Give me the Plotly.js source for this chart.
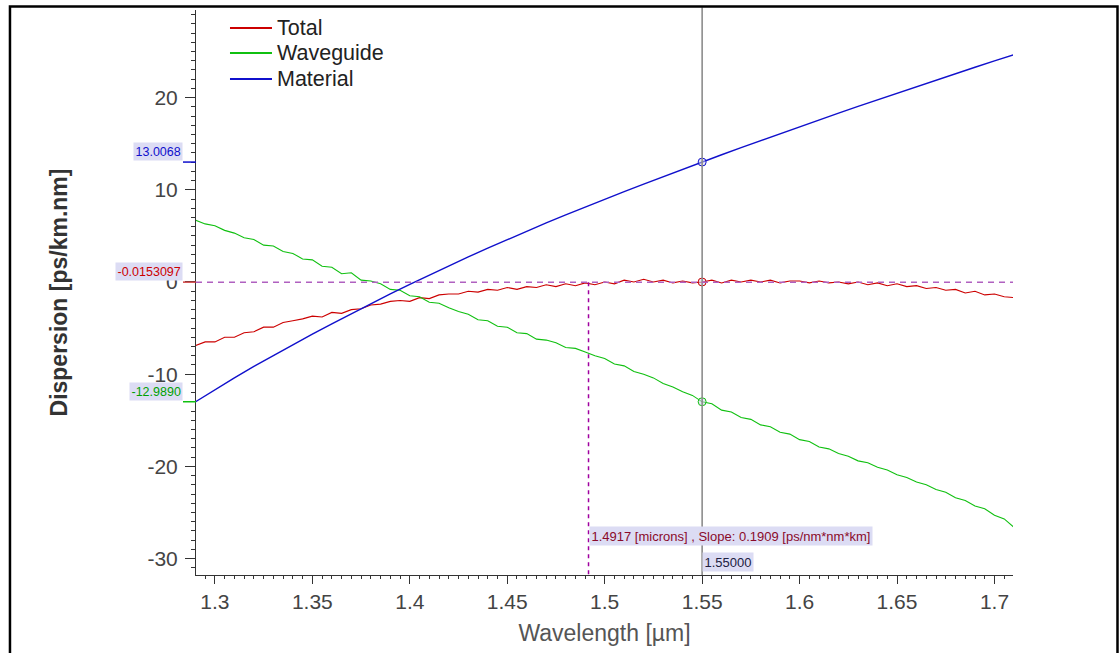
<!DOCTYPE html>
<html>
<head>
<meta charset="utf-8">
<script src="https://cdn.plot.ly/plotly-3.0.1.min.js"></script>
<style>
  html, body { margin: 0; padding: 0; background: #fff; }
  #chart { width: 1120px; height: 653px; }
</style>
</head>
<body>
<div id="chart"></div>
<script>
// Wavelength grid for the noisy curves (µm)
var wlFine = [1.290,1.295,1.300,1.305,1.310,1.315,1.320,1.325,1.330,1.335,1.340,1.345,1.350,1.355,1.360,1.365,1.370,1.375,1.380,1.385,1.390,1.395,1.400,1.405,1.410,1.415,1.420,1.425,1.430,1.435,1.440,1.445,1.450,1.455,1.460,1.465,1.470,1.475,1.480,1.485,1.490,1.495,1.500,1.505,1.510,1.515,1.520,1.525,1.530,1.535,1.540,1.545,1.550,1.555,1.560,1.565,1.570,1.575,1.580,1.585,1.590,1.595,1.600,1.605,1.610,1.615,1.620,1.625,1.630,1.635,1.640,1.645,1.650,1.655,1.660,1.665,1.670,1.675,1.680,1.685,1.690,1.695,1.700,1.705,1.710];

// Total dispersion (ps/km.nm)
var totalD = [-6.9,-6.5,-6.5,-6.0,-6.0,-5.5,-5.4,-4.9,-4.9,-4.4,-4.2,-4.0,-3.7,-3.8,-3.3,-3.4,-3.0,-2.9,-2.5,-2.4,-2.1,-2.0,-2.1,-1.7,-1.8,-1.4,-1.3,-1.3,-1.0,-1.1,-0.8,-0.9,-0.6,-0.8,-0.5,-0.6,-0.3,-0.5,-0.2,-0.4,-0.1,-0.3,0.0,-0.2,0.2,0.0,0.3,0.0,0.2,-0.1,0.1,-0.1,0.0,0.2,-0.1,0.2,0.0,0.2,0.0,0.2,-0.1,0.1,0.1,-0.1,0.1,-0.1,0.0,-0.2,0.0,-0.3,-0.1,-0.4,-0.2,-0.5,-0.4,-0.7,-0.6,-0.9,-0.8,-1.2,-1.0,-1.4,-1.3,-1.6,-1.7];

// Waveguide dispersion (ps/km.nm)
var waveguideD = [6.7,6.3,6.1,5.6,5.3,4.8,4.6,4.0,3.9,3.3,3.1,2.5,2.4,1.7,1.6,0.9,1.0,0.2,0.1,-0.2,-0.8,-0.9,-1.5,-1.6,-2.2,-2.3,-2.8,-3.2,-3.5,-4.1,-4.2,-4.8,-4.9,-5.5,-5.6,-6.2,-6.3,-6.6,-7.1,-7.2,-7.6,-8.0,-8.3,-8.9,-9.1,-9.7,-10.0,-10.4,-11.0,-11.4,-11.9,-12.3,-13.0,-13.2,-13.9,-14.1,-14.7,-14.9,-15.5,-15.7,-16.3,-16.5,-17.1,-17.3,-17.9,-18.1,-18.6,-18.9,-19.4,-19.6,-20.1,-20.4,-20.9,-21.2,-21.7,-22.0,-22.5,-22.8,-23.4,-23.7,-24.3,-24.6,-25.3,-25.7,-26.6];

// Wavelength grid for the smooth material curve (µm)
var wlCoarse = [1.29,1.30,1.31,1.32,1.33,1.34,1.35,1.36,1.37,1.38,1.39,1.40,1.41,1.42,1.43,1.44,1.45,1.46,1.47,1.48,1.49,1.50,1.51,1.52,1.53,1.54,1.55,1.56,1.57,1.58,1.59,1.60,1.61,1.62,1.63,1.64,1.65,1.66,1.67,1.68,1.69,1.70,1.71];

// Material dispersion (ps/km.nm)
var materialD = [-13.00,-11.68,-10.40,-9.16,-7.96,-6.79,-5.65,-4.53,-3.43,-2.35,-1.29,-0.25,0.76,1.75,2.72,3.67,4.60,5.51,6.40,7.27,8.13,8.97,9.80,10.62,11.43,12.23,13.02,13.80,14.57,15.33,16.09,16.84,17.58,18.31,19.04,19.76,20.48,21.19,21.89,22.59,23.29,23.98,24.66];

// Series names
var seriesNames = ["Total", "Waveguide", "Material"];

// Cursor readouts
var cursorX = 1.55;
var cursorLabel = "1.55000";
var cursorVals = [13.0068, -12.9890, 0.0];
var cursorTexts = ["13.0068", "-12.9890"];
var levelVal = -0.0153097;
var levelText = "-0.0153097";
var slopeX = 1.4917;
var slopeText = "1.4917 [microns] , Slope: 0.1909 [ps/nm*nm*km]";

// Tick labels
var xTickVals = [1.3,1.35,1.4,1.45,1.5,1.55,1.6,1.65,1.7];
var xTickText = ["1.3","1.35","1.4","1.45","1.5","1.55","1.6","1.65","1.7"];
var yTickVals = [-30,-20,-10,0,10,20];
var yTickText = ["-30","-20","-10","0","10","20"];

var RED = "#cc0000", GREEN = "#10c010", BLUE = "#1010cc";
var COLORS = [RED, GREEN, BLUE];
var FONT = "Liberation Sans, Arial, sans-serif";
var LAV = "#dcdcf4";

var traces = [
  {x: wlFine, y: totalD, name: seriesNames[0], mode: "lines", line: {color: RED, width: 1.1}},
  {x: wlFine, y: waveguideD, name: seriesNames[1], mode: "lines", line: {color: GREEN, width: 1.1}},
  {x: wlCoarse, y: materialD, name: seriesNames[2], mode: "lines", line: {color: BLUE, width: 1.4}},
  {x: [cursorX, cursorX, cursorX], y: cursorVals, mode: "markers", showlegend: false,
   marker: {symbol: "circle", size: 8, color: "rgba(210,210,235,0.5)",
            line: {color: [BLUE, GREEN, RED], width: 1}}}
];

var tickEnd = -13/817;
var shapes = [
  {type: "line", xref: "x", yref: "paper", x0: cursorX, x1: cursorX, y0: 0, y1: 1.005,
   line: {color: "#8c8c8c", width: 1.6}},
  {type: "line", xref: "paper", yref: "y", x0: 0, x1: 1, y0: levelVal, y1: levelVal,
   line: {color: "#b060c0", width: 1.5, dash: "6px,5px"}},
  {type: "line", xref: "x", yref: "y", x0: slopeX, x1: slopeX, y0: levelVal, y1: -31.8,
   line: {color: "#a000a0", width: 1.5, dash: "4px,4px"}},
  {type: "line", xref: "paper", yref: "y", x0: tickEnd, x1: 0, y0: cursorVals[0], y1: cursorVals[0], line: {color: BLUE, width: 1.5}},
  {type: "line", xref: "paper", yref: "y", x0: tickEnd, x1: 0, y0: levelVal, y1: levelVal, line: {color: "#d04040", width: 1.5}},
  {type: "line", xref: "paper", yref: "y", x0: tickEnd, x1: 0, y0: cursorVals[1], y1: cursorVals[1], line: {color: GREEN, width: 1.5}},
  {type: "rect", xref: "paper", yref: "paper", x0: -0.2277, x1: 1.1279, y0: -0.16, y1: 1.0062,
   line: {color: "#000", width: 2.5}, fillcolor: "rgba(0,0,0,0)"}
];

function readout(text, y, color) {
  return {xref: "paper", yref: "y", x: tickEnd, y: y, xanchor: "right", yanchor: "bottom",
          yshift: 1, text: text, showarrow: false, bgcolor: LAV, borderpad: 1.5,
          font: {family: FONT, size: 12.5, color: color}};
}

var annotations = [
  readout(cursorTexts[0], cursorVals[0], BLUE),
  readout(levelText, levelVal, RED),
  readout(cursorTexts[1], cursorVals[1], "#00a000"),
  {xref: "x", yref: "paper", x: slopeX, y: 0.0513, xanchor: "left", yanchor: "bottom",
   text: slopeText, showarrow: false, bgcolor: LAV, borderpad: 1.5,
   font: {family: FONT, size: 13, color: "#8a0a2a"}},
  {xref: "x", yref: "paper", x: cursorX, y: 0.005, xanchor: "left", yanchor: "bottom",
   text: cursorLabel, showarrow: false, bgcolor: LAV, borderpad: 1.5,
   font: {family: FONT, size: 13, color: "#202040"}}
];

// Legend drawn at the top left of the plot
var legY = [0.9681, 0.9239, 0.8779];
for (var i = 0; i < seriesNames.length; i++) {
  shapes.push({type: "line", xref: "paper", yref: "paper", x0: 0.0416, x1: 0.0930,
               y0: legY[i], y1: legY[i], line: {color: COLORS[i], width: 2}});
  annotations.push({xref: "paper", yref: "paper", x: 0.0965, y: legY[i], xanchor: "left",
                    yanchor: "middle", text: seriesNames[i], showarrow: false,
                    font: {family: FONT, size: 21.5, color: "#222"}});
}

var layout = {
  width: 1120, height: 653,
  margin: {l: 196, r: 107, t: 10, b: 78, pad: 0},
  paper_bgcolor: "#fff", plot_bgcolor: "#fff",
  font: {family: FONT, color: "#444"},
  showlegend: false,
  xaxis: {
    range: [1.2903, 1.7095], showgrid: false, zeroline: false,
    showline: true, linecolor: "#333", linewidth: 1,
    ticks: "outside", ticklen: 8, tickcolor: "#333", tickwidth: 1,
    tickvals: xTickVals, ticktext: xTickText,
    tickfont: {family: FONT, size: 21, color: "#444"},
    minor: {dtick: 0.005, tick0: 1.3, ticks: "outside", ticklen: 3, tickcolor: "#333", showgrid: false},
    title: {text: "Wavelength [µm]", standoff: 12, font: {family: FONT, size: 23, color: "#555"}}
  },
  yaxis: {
    range: [-31.78, 29.5], showgrid: false, zeroline: false,
    showline: true, linecolor: "#333", linewidth: 1,
    ticks: "outside", ticklen: 10, tickcolor: "#333", tickwidth: 1,
    ticklabelstandoff: 3,
    tickvals: yTickVals, ticktext: yTickText,
    tickfont: {family: FONT, size: 21, color: "#444"},
    minor: {dtick: 1, tick0: 0, ticks: "outside", ticklen: 4, tickcolor: "#333", showgrid: false},
    title: {text: "<b>Dispersion [ps/km.nm]</b>", standoff: 73, font: {family: FONT, size: 23, color: "#333"}}
  },
  shapes: shapes,
  annotations: annotations
};

Plotly.newPlot("chart", traces, layout, {displayModeBar: false, staticPlot: true});
</script>
</body>
</html>
